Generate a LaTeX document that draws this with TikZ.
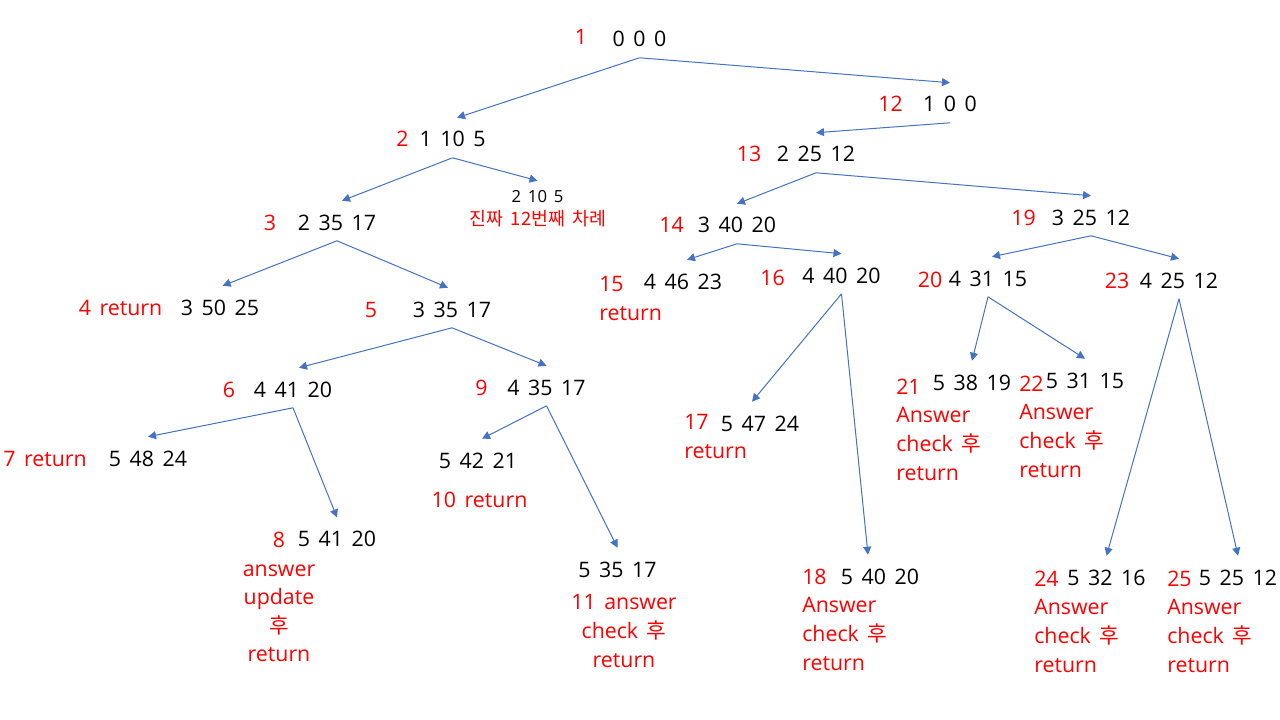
\documentclass[tikz,border=0pt]{standalone}
\usepackage{fontspec}
\setmainfont{Open Sans}[WordSpace=1.55]
\newfontfamily\kr{Noto Sans CJK KR}[WordSpace=1.8]
\usetikzlibrary{arrows.meta}
\definecolor{arrowblue}{RGB}{68,114,196}

\begin{document}
\begin{tikzpicture}[x=0.75pt,y=-0.75pt,
  font=\fontsize{16pt}{21.4pt}\selectfont,
  val/.style={inner sep=0pt,anchor=base,text height=21.75pt,text depth=7.9pt},
  smallval/.style={inner sep=0pt,anchor=base,text height=16.5pt,font=\fontsize{12.5pt}{15pt}\selectfont},
  lbl/.style={inner sep=0pt,anchor=base,text=red},
  arr/.style={draw=arrowblue,line width=0.75pt,-{Triangle[length=6pt,width=6pt]}}]
\useasboundingbox (0,0) rectangle (1280,720);
\node[lbl] (n1) at (581,45) {1};
\node[val] (v1) at (639.5,47) {0 0 0};
\node[lbl] (n2) at (402.5,147) {2};
\node[val] (v2) at (452.5,147) {1 10 5};
\node[smallval] (v2b) at (537.5,203) {2 10 5};
\node[lbl,font=\kr\fontsize{13.8pt}{15pt}\selectfont] (n2b) at (538,225) {진짜 12번째 차례};
\node[lbl] (n3) at (270,230) {3};
\node[val] (v3) at (337,230) {2 35 17};
\node[lbl] (n4) at (120.5,315) {4 return};
\node[val] (v4) at (220,315) {3 50 25};
\node[lbl] (n5) at (371,317) {5};
\node[val] (v5) at (452,317) {3 35 17};
\node[lbl] (n6) at (229,397) {6};
\node[val] (v6) at (293,397) {4 41 20};
\node[lbl] (n7) at (45,466) {7 return};
\node[val] (v7) at (148,466) {5 48 24};
\node[lbl,align=center] (n8) at (279,661.7) {8\\answer\\update\\{\kr 후}\\return};
\node[val] (v8) at (337,546.7) {5 41 20};
\node[lbl] (n9) at (481.5,395) {9};
\node[val] (v9) at (546.5,395) {4 35 17};
\node[val] (v10) at (478,468) {5 42 21};
\node[lbl] (n10) at (479.5,507) {10 return};
\node[val] (v11) at (617.5,577) {5 35 17};
\node[lbl,align=center] (n11) at (624,667) {11 answer\\check {\kr 후}\\return};
\node[lbl] (n12) at (890.5,112) {12};
\node[val] (v12) at (950,112) {1 0 0};
\node[lbl] (n13) at (749,162) {13};
\node[val] (v13) at (816,162) {2 25 12};
\node[lbl] (n14) at (671.5,233) {14};
\node[val] (v14) at (737,233) {3 40 20};
\node[lbl,anchor=base west,align=left] (n15) at (599,320) {15\\return};
\node[val] (v15) at (683,289) {4 46 23};
\node[lbl] (n16) at (772.5,285) {16};
\node[val] (v16) at (841.5,283) {4 40 20};
\node[lbl,anchor=base west,align=left] (n17) at (684,458) {17\\return};
\node[val] (v17) at (760,431) {5 47 24};
\node[lbl,anchor=base west,align=left] (n18) at (802,670) {18\\Answer\\check {\kr 후}\\return};
\node[val] (v18) at (880,584) {5 40 20};
\node[lbl] (n19) at (1023.5,225) {19};
\node[val] (v19) at (1091,225) {3 25 12};
\node[lbl] (n20) at (930,287) {20};
\node[val] (v20) at (988,286) {4 31 15};
\node[lbl,anchor=base west,align=left] (n21) at (896,480) {21\\Answer\\check {\kr 후}\\return};
\node[val] (v21) at (972,390) {5 38 19};
\node[lbl,anchor=base west,align=left] (n22) at (1019,477) {22\\Answer\\check {\kr 후}\\return};
\node[val] (v22) at (1085,388) {5 31 15};
\node[lbl] (n23) at (1117,288) {23};
\node[val] (v23) at (1179,288) {4 25 12};
\node[lbl,anchor=base west,align=left] (n24) at (1034,672) {24\\Answer\\check {\kr 후}\\return};
\node[val] (v24) at (1106.5,585) {5 32 16};
\node[lbl,anchor=base west,align=left] (n25) at (1167,672) {25\\Answer\\check {\kr 후}\\return};
\node[val] (v25) at (1238,585) {5 25 12};
\draw[arr] (v1.south) -- ([xshift=3.4pt]v2.north);
\draw[arr] (v1.south) -- (v12.north);
\draw[arr] (v2.south) -- ([xshift=3.75pt]v3.north);
\draw[arr] (v2.south) -- (v2b.north);
\draw[arr] (v3.south) -- ([xshift=2pt]v4.north);
\draw[arr] (v3.south) -- ([xshift=-3pt]v5.north);
\draw[arr] (v5.south) -- ([xshift=4.5pt]v6.north);
\draw[arr] (v5.south) -- (v9.north);
\draw[arr] (v6.south) -- (v7.north);
\draw[arr] (v6.south) -- (v8.north);
\draw[arr] (v9.south) -- ([xshift=3pt]v10.north);
\draw[arr] (v9.south) -- (v11.north);
\draw[arr] (v12.south) -- (v13.north);
\draw[arr] (v13.south) -- (v14.north);
\draw[arr] (v13.south) -- (v19.north);
\draw[arr] (v14.south) -- ([xshift=3pt]v15.north);
\draw[arr] (v14.south) -- (v16.north);
\draw[arr] (v16.south) -- ([xshift=-6pt]v17.north);
\draw[arr] (v16.south) -- ([xshift=-9pt]v18.north);
\draw[arr] (v19.south) -- ([xshift=3pt]v20.north);
\draw[arr] (v19.south) -- (v23.north);
\draw[arr] (v20.south) -- (v21.north);
\draw[arr] (v20.south) -- (v22.north);
\draw[arr] (v23.south) -- (v24.north);
\draw[arr] (v23.south) -- (v25.north);
\end{tikzpicture}
\end{document}
